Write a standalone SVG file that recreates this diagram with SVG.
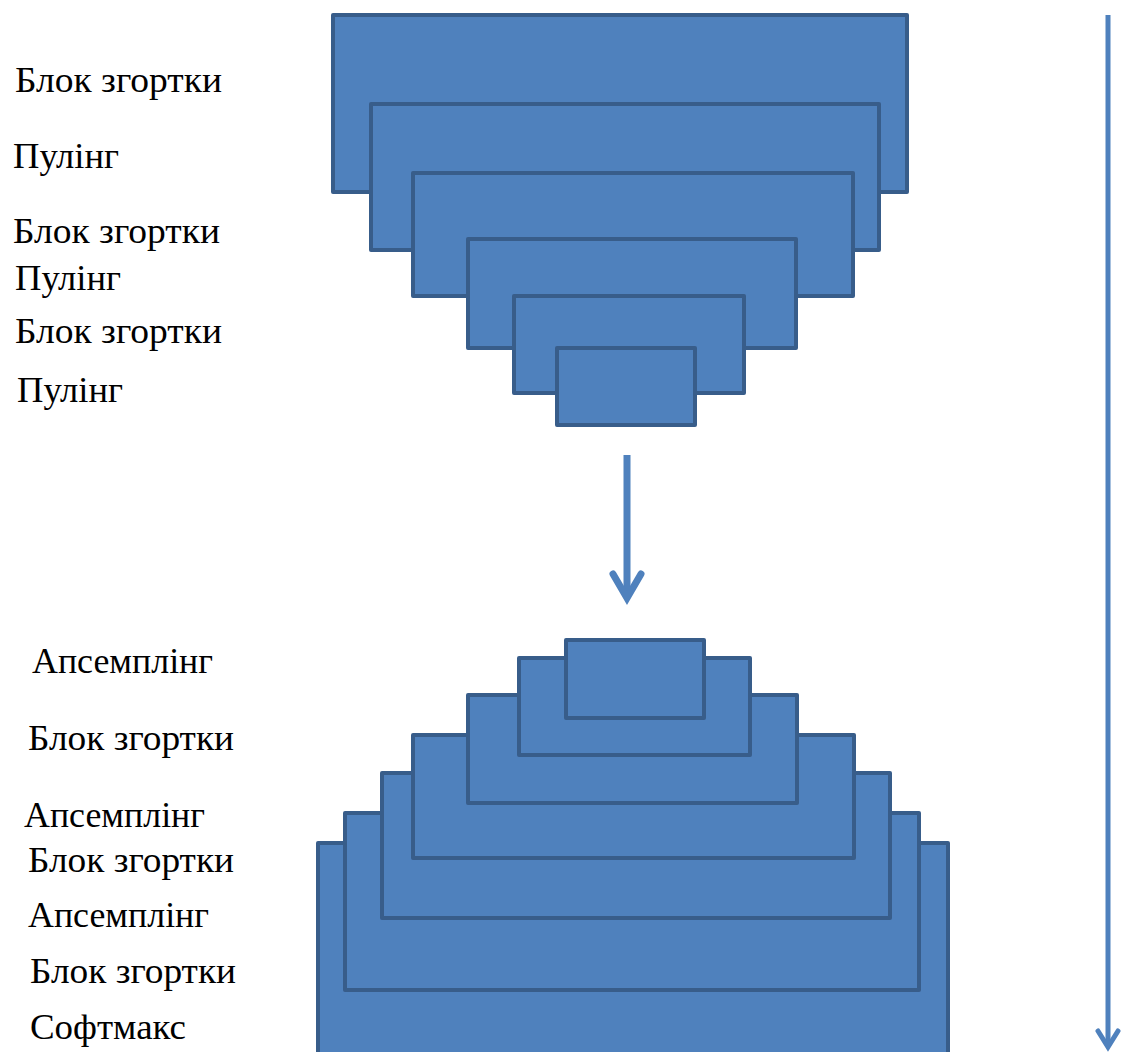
<svg xmlns="http://www.w3.org/2000/svg" width="1131" height="1052" viewBox="0 0 1131 1052">
  <style>
    .blk { fill: #4f81bd; stroke: #385d8a; stroke-width: 4; stroke-linejoin: round; }
    .lbl { font-family: "Liberation Serif", "DejaVu Serif", "Times New Roman", serif; font-size: 35px; fill: #000; }
    .flow { fill: none; stroke: #4f81bd; stroke-linecap: butt; }
    .head { fill: none; stroke: #4f81bd; stroke-linecap: round; stroke-linejoin: miter; }
  </style>
  <rect width="1131" height="1052" fill="#fff"/>

  <!-- Encoder: shrinking stack -->
  <g id="encoder">
    <g id="enc1"><rect class="blk" x="333" y="15" width="574" height="177"/></g>
    <g id="enc2"><rect class="blk" x="371" y="104" width="508" height="146"/></g>
    <g id="enc3"><rect class="blk" x="413" y="173" width="440" height="123"/></g>
    <g id="enc4"><rect class="blk" x="468" y="239" width="328" height="109"/></g>
    <g id="enc5"><rect class="blk" x="514" y="296" width="230" height="97"/></g>
    <g id="enc6"><rect class="blk" x="557" y="348" width="138" height="77"/></g>
  </g>

  <!-- Decoder: growing stack (largest drawn first) -->
  <g id="decoder">
    <g id="dec7"><rect class="blk" x="318" y="843" width="630" height="215"/></g>
    <g id="dec6"><rect class="blk" x="345" y="813" width="574" height="177"/></g>
    <g id="dec5"><rect class="blk" x="382" y="773" width="508" height="145"/></g>
    <g id="dec4"><rect class="blk" x="413" y="735" width="441" height="123"/></g>
    <g id="dec3"><rect class="blk" x="468" y="695" width="329" height="108"/></g>
    <g id="dec2"><rect class="blk" x="519" y="658" width="231" height="97"/></g>
    <g id="dec1"><rect class="blk" x="566" y="640" width="138" height="78"/></g>
  </g>

  <!-- Connectors -->
  <g id="connectors">
    <g id="mid-arrow">
      <line class="flow" x1="627" y1="455" x2="627" y2="598" stroke-width="7"/>
      <polyline class="head" points="613,574 627,598 641,574" stroke-width="7"/>
    </g>
    <g id="side-arrow">
      <line class="flow" x1="1108" y1="15" x2="1108" y2="1046" stroke-width="5"/>
      <polyline class="head" points="1098,1031 1108,1047 1118,1031" stroke-width="5"/>
    </g>
  </g>

  <!-- Labels (set width stretched to the layout) -->
  <g id="labels-encoder">
    <text class="lbl" x="15" y="92" textLength="207" lengthAdjust="spacingAndGlyphs">Блок згортки</text>
    <text class="lbl" x="13" y="168" textLength="106" lengthAdjust="spacingAndGlyphs">Пулінг</text>
    <text class="lbl" x="13" y="243" textLength="207" lengthAdjust="spacingAndGlyphs">Блок згортки</text>
    <text class="lbl" x="15" y="290" textLength="106" lengthAdjust="spacingAndGlyphs">Пулінг</text>
    <text class="lbl" x="15" y="343" textLength="207" lengthAdjust="spacingAndGlyphs">Блок згортки</text>
    <text class="lbl" x="17" y="402" textLength="106" lengthAdjust="spacingAndGlyphs">Пулінг</text>
  </g>
  <g id="labels-decoder">
    <text class="lbl" x="32" y="673" textLength="181" lengthAdjust="spacingAndGlyphs">Апсемплінг</text>
    <text class="lbl" x="28" y="750" textLength="206" lengthAdjust="spacingAndGlyphs">Блок згортки</text>
    <text class="lbl" x="24" y="827" textLength="181" lengthAdjust="spacingAndGlyphs">Апсемплінг</text>
    <text class="lbl" x="28" y="872" textLength="206" lengthAdjust="spacingAndGlyphs">Блок згортки</text>
    <text class="lbl" x="28" y="927" textLength="181" lengthAdjust="spacingAndGlyphs">Апсемплінг</text>
    <text class="lbl" x="30" y="983" textLength="206" lengthAdjust="spacingAndGlyphs">Блок згортки</text>
    <text class="lbl" x="30" y="1039" textLength="156" lengthAdjust="spacingAndGlyphs">Софтмакс</text>
  </g>
</svg>
